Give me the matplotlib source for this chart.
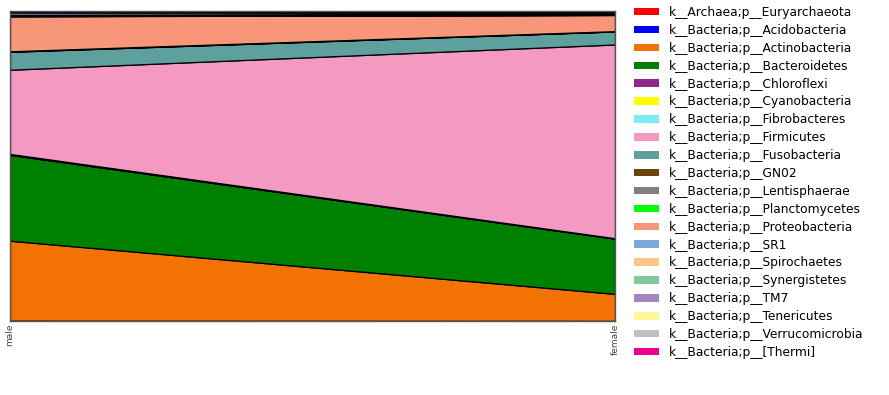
import matplotlib
matplotlib.use("Agg")
import matplotlib.pyplot as plt
from matplotlib.patches import Patch
import numpy as np

samples = ["male", "female"]
taxa = [
    "k__Archaea;p__Euryarchaeota",
    "k__Bacteria;p__Acidobacteria",
    "k__Bacteria;p__Actinobacteria",
    "k__Bacteria;p__Bacteroidetes",
    "k__Bacteria;p__Chloroflexi",
    "k__Bacteria;p__Cyanobacteria",
    "k__Bacteria;p__Fibrobacteres",
    "k__Bacteria;p__Firmicutes",
    "k__Bacteria;p__Fusobacteria",
    "k__Bacteria;p__GN02",
    "k__Bacteria;p__Lentisphaerae",
    "k__Bacteria;p__Planctomycetes",
    "k__Bacteria;p__Proteobacteria",
    "k__Bacteria;p__SR1",
    "k__Bacteria;p__Spirochaetes",
    "k__Bacteria;p__Synergistetes",
    "k__Bacteria;p__TM7",
    "k__Bacteria;p__Tenericutes",
    "k__Bacteria;p__Verrucomicrobia",
    "k__Bacteria;p__[Thermi]",
]
colors = [
    "#ff0000", "#0000ff", "#f27304", "#008000", "#91278d", "#ffff00",
    "#7cecf4", "#f49ac2", "#5da09e", "#6b440b", "#808080", "#04ff04",
    "#f79679", "#7da9d8", "#fcc688", "#80c99b", "#a287bf", "#fff899",
    "#c0c0c0", "#ed008a",
]
male_values = [0.001, 0.0, 0.258, 0.277, 0.0005, 0.002, 0.0005, 0.2715, 0.058, 0.0,
               0.001, 0.0005, 0.113, 0.0005, 0.002, 0.002, 0.008, 0.002, 0.002, 0.0005]
female_values = [0.0005, 0.0, 0.087, 0.178, 0.0005, 0.001, 0.0, 0.625, 0.042, 0.0,
                 0.0005, 0.0005, 0.052, 0.0005, 0.002, 0.002, 0.002, 0.003, 0.003, 0.0005]

fig = plt.figure(figsize=(8.89, 3.95), dpi=100)
ax = fig.add_axes([10/889, 1 - 321/395, 605/889, 310/395])

x = np.arange(len(samples))
vals = np.array([male_values, female_values]).T
base = np.zeros(len(samples))
for v, c in zip(vals, colors):
    ax.fill_between(x, base, base + v, facecolor=c, edgecolor="black", linewidth=0.9)
    base = base + v

ax.set_xlim(0, len(samples) - 1)
ax.set_ylim(0, 1)
ax.set_yticks([])
ax.set_xticks(x)
ax.set_xticklabels(samples, rotation=90, fontsize=6.5, color="#444444")
ax.tick_params(axis="x", length=0, pad=2)
for s in ax.spines.values():
    s.set_color("#555555")
    s.set_linewidth(1.0)

handles = [Patch(facecolor=c, edgecolor="none") for c in colors]
fig.legend(handles, taxa, loc="upper left", bbox_to_anchor=(634/889, 1 - 6/395),
           frameon=False, fontsize=8.8, borderpad=0, borderaxespad=0,
           handlelength=2.05, handleheight=0.57, handletextpad=0.8, labelspacing=0.4)

fig.savefig("out.png", dpi=100)
